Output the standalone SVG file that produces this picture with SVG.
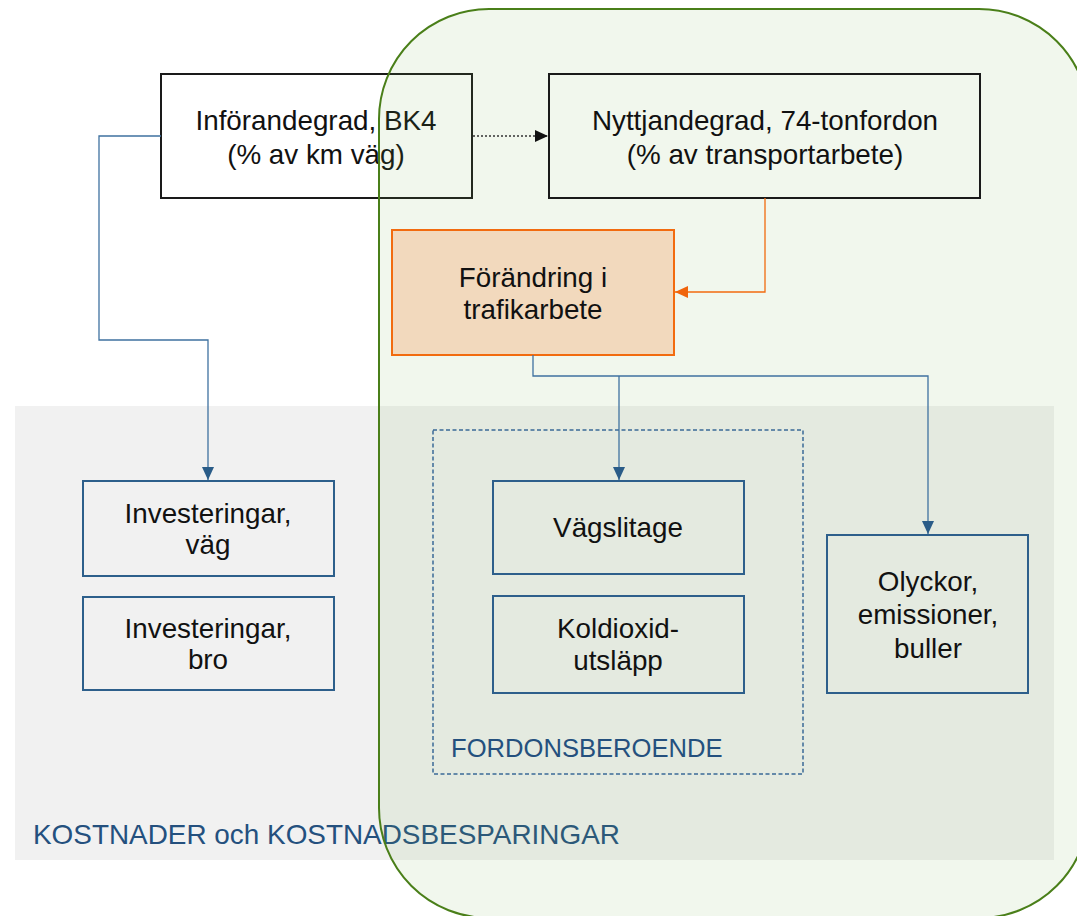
<svg xmlns="http://www.w3.org/2000/svg" width="1077" height="916" viewBox="0 0 1077 916">
<style>
.t{font-family:"Liberation Sans",Arial,sans-serif;font-size:27.8px;fill:#111;text-anchor:middle}
.lbl{font-family:"Liberation Sans",Arial,sans-serif;fill:#24507e}
.bk{fill:none;stroke:#1a1a1a;stroke-width:2}
.bl{fill:none;stroke:#2d5f8b;stroke-width:2}
.cn{fill:none;stroke:#3f72a0;stroke-width:1.3}
</style>
<defs>
<marker id="ab" markerUnits="userSpaceOnUse" markerWidth="14" markerHeight="14" viewBox="0 0 14 14" refX="13" refY="7" orient="auto"><path d="M0,1 L13,7 L0,13 Z" fill="#2a5c88"/></marker>
<marker id="ao" markerUnits="userSpaceOnUse" markerWidth="14" markerHeight="14" viewBox="0 0 14 14" refX="13" refY="7" orient="auto"><path d="M0,1 L13,7 L0,13 Z" fill="#f0640c"/></marker>
<marker id="ak" markerUnits="userSpaceOnUse" markerWidth="14" markerHeight="14" viewBox="0 0 14 14" refX="13" refY="7" orient="auto"><path d="M0,1 L13,7 L0,13 Z" fill="#111"/></marker>
</defs>
<rect width="1077" height="916" fill="#fff"/>
<g id="kostnader-area">
<rect x="15" y="406" width="1039" height="454" fill="#9b9b9b" fill-opacity="0.14"/>
<text class="lbl" x="33" y="844" font-size="27.9">KOSTNADER och KOSTNADSBESPARINGAR</text>
</g>
<g id="inforandegrad">
<rect class="bk" x="161" y="74" width="311" height="124" fill="#fff"/>
<text class="t" x="316" y="130">Införandegrad, BK4</text>
<text class="t" x="316" y="164">(% av km väg)</text>
</g>
<g id="green-area">
<rect x="379" y="9" width="710" height="909" rx="110" ry="110" fill="rgb(115,175,75)" fill-opacity="0.1" stroke="#4a7f19" stroke-width="2"/>
</g>
<g id="nyttjandegrad">
<rect class="bk" x="549" y="74" width="431" height="124"/>
<text class="t" x="765" y="130">Nyttjandegrad, 74-tonfordon</text>
<text class="t" x="765" y="164">(% av transportarbete)</text>
</g>
<g id="forandring">
<rect x="392" y="230" width="282" height="125" fill="#f2d9bd" stroke="#f26b0f" stroke-width="2"/>
<text class="t" x="533" y="287">Förändring i</text>
<text class="t" x="533" y="319">trafikarbete</text>
</g>
<g id="fordonsberoende">
<rect x="433" y="430" width="370" height="344" fill="none" stroke="#3a6a96" stroke-width="1.5" stroke-dasharray="4 2.5"/>
<text class="lbl" x="451" y="757" font-size="25.6">FORDONSBEROENDE</text>
</g>
<g id="vagslitage">
<rect class="bl" x="493" y="481" width="251" height="93"/>
<text class="t" x="618" y="537">Vägslitage</text>
</g>
<g id="koldioxid">
<rect class="bl" x="493" y="596" width="251" height="97"/>
<text class="t" x="618" y="638">Koldioxid-</text>
<text class="t" x="618" y="670">utsläpp</text>
</g>
<g id="olyckor">
<rect class="bl" x="827" y="535" width="201" height="158"/>
<text class="t" x="928" y="591">Olyckor,</text>
<text class="t" x="928" y="624">emissioner,</text>
<text class="t" x="928" y="658">buller</text>
</g>
<g id="inv-vag">
<rect class="bl" x="83" y="481" width="251" height="95"/>
<text class="t" x="208" y="523">Investeringar,</text>
<text class="t" x="208" y="554">väg</text>
</g>
<g id="inv-bro">
<rect class="bl" x="83" y="597" width="251" height="93"/>
<text class="t" x="208" y="638">Investeringar,</text>
<text class="t" x="208" y="669">bro</text>
</g>
<g id="connectors">
<path d="M473,136 H548" fill="none" stroke="#333" stroke-width="1.3" stroke-dasharray="2 2" marker-end="url(#ak)"/>
<path d="M765,198 V292 H675" fill="none" stroke="#f26b0f" stroke-width="1.3" marker-end="url(#ao)"/>
<path class="cn" d="M161,136 H99 V340 H208 V480" marker-end="url(#ab)"/>
<path class="cn" d="M533,355 V376 H928 V534" marker-end="url(#ab)"/>
<path class="cn" d="M619,376 V480" marker-end="url(#ab)"/>
</g>
</svg>
